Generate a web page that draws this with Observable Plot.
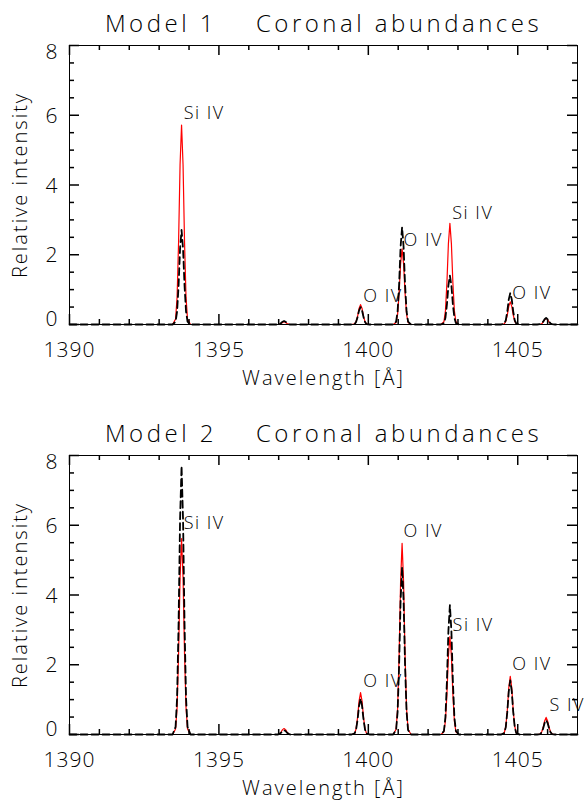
<!DOCTYPE html>
<html><head><meta charset="utf-8">
<script src="https://cdn.jsdelivr.net/npm/d3@7"></script>
<script src="https://cdn.jsdelivr.net/npm/@observablehq/plot@0.6"></script>
<style>
body{margin:0;background:#fff} svg{display:block}
g[font-size="24"] text{letter-spacing:3.5px}
g[font-size="20"] text{letter-spacing:2px}
g[font-size="18"] text{letter-spacing:1.5px}
g[font-size="21"] text{letter-spacing:1px}
</style>
</head><body><div id="chart"></div>
<script>
const wavelength = [1390,
1393.45,1393.55,1393.60,1393.65,1393.70,1393.75,1393.80,1393.85,1393.90,1393.95,1394.05,
1396.88,1396.98,1397.03,1397.08,1397.13,1397.18,1397.23,1397.28,1397.33,1397.38,1397.48,
1399.44,1399.54,1399.59,1399.64,1399.69,1399.74,1399.79,1399.84,1399.89,1399.94,1400.04,
1400.83,1400.93,1400.98,1401.03,1401.08,1401.13,1401.18,1401.23,1401.28,1401.33,1401.43,
1402.43,1402.53,1402.58,1402.63,1402.68,1402.73,1402.78,1402.83,1402.88,1402.93,1403.03,
1404.45,1404.55,1404.60,1404.65,1404.70,1404.75,1404.80,1404.85,1404.90,1404.95,1405.05,
1405.65,1405.75,1405.80,1405.85,1405.90,1405.95,1406.00,1406.05,1406.10,1406.15,1406.25,
1407];

const model1Red = [0,
0,0.16,0.77,2.35,4.58,5.72,4.58,2.35,0.77,0.16,0,
0,0,0.01,0.03,0.06,0.08,0.06,0.03,0.01,0,0,
0,0.02,0.08,0.23,0.46,0.57,0.46,0.23,0.08,0.02,0,
0,0.06,0.29,0.89,1.74,2.17,1.74,0.89,0.29,0.06,0,
0,0.08,0.39,1.19,2.32,2.90,2.32,1.19,0.39,0.08,0,
0,0.02,0.09,0.27,0.52,0.65,0.52,0.27,0.09,0.02,0,
0,0,0.02,0.07,0.14,0.17,0.14,0.07,0.02,0,0,
0];
const model1Black = [0,
0,0.08,0.37,1.11,2.17,2.71,2.17,1.11,0.37,0.08,0,
0,0,0.01,0.04,0.08,0.10,0.08,0.04,0.01,0,0,
0,0.01,0.07,0.21,0.40,0.50,0.40,0.21,0.07,0.01,0,
0,0.08,0.38,1.14,2.23,2.79,2.23,1.14,0.38,0.08,0,
0,0.04,0.19,0.57,1.12,1.40,1.12,0.57,0.19,0.04,0,
0,0.03,0.12,0.37,0.72,0.90,0.72,0.37,0.12,0.03,0,
0,0.01,0.03,0.08,0.15,0.19,0.15,0.08,0.03,0.01,0,
0];
const model2Red = [0,
0,0.16,0.76,2.30,4.50,5.62,4.50,2.30,0.76,0.16,0,
0,0,0.02,0.07,0.14,0.17,0.14,0.07,0.02,0,0,
0,0.03,0.16,0.49,0.96,1.20,0.96,0.49,0.16,0.03,0,
0,0.15,0.74,2.25,4.38,5.48,4.38,2.25,0.74,0.15,0,
0,0.08,0.38,1.15,2.25,2.81,2.25,1.15,0.38,0.08,0,
0,0.05,0.23,0.68,1.34,1.67,1.34,0.68,0.23,0.05,0,
0,0.01,0.07,0.20,0.39,0.49,0.39,0.20,0.07,0.01,0,
0];
const model2Black = [0,
0,0.22,1.04,3.16,6.16,7.70,6.16,3.16,1.04,0.22,0,
0,0,0.02,0.05,0.10,0.12,0.10,0.05,0.02,0,0,
0,0.03,0.14,0.42,0.82,1.03,0.82,0.42,0.14,0.03,0,
0,0.13,0.65,1.97,3.84,4.80,3.84,1.97,0.65,0.13,0,
0,0.10,0.50,1.52,2.97,3.71,2.97,1.52,0.50,0.10,0,
0,0.04,0.21,0.64,1.24,1.55,1.24,0.64,0.21,0.04,0,
0,0.01,0.06,0.17,0.33,0.41,0.33,0.17,0.06,0.01,0,
0];

const labels1Text = ["Si IV","O IV","O IV","Si IV","O IV"];
const labels1X = [1393.82,1399.83,1401.18,1402.81,1404.82];
const labels1Y = [6.05,0.81,2.41,3.18,0.90];
const labels2Text = ["Si IV","O IV","O IV","Si IV","O IV","S IV"];
const labels2X = [1393.82,1401.18,1399.83,1402.82,1404.82,1406.06];
const labels2Y = [6.05,5.82,1.53,3.13,2.01,0.84];

const titles = ["Model 1    Coronal abundances", "Model 2    Coronal abundances"];
const xLabel = "Wavelength [Å]";
const yLabel = "Relative intensity";
const majorX = [1390,1395,1400,1405];
const minorX = [1391,1392,1393,1394,1396,1397,1398,1399,1401,1402,1403,1404,1406];
const majorY = [0,2,4,6,8];
const minorY = [0.5,1,1.5,2.5,3,3.5,4.5,5,5.5,6.5,7,7.5];

const FONT = "'Open Sans', 'DejaVu Sans', sans-serif";
const W = 585, MT = 45, ML = 69, MR = 8;

function panel(title, red, black, lt, lx, ly, height, marginBottom) {
  const data = wavelength.map((w, i) => ({w, red: red[i], black: black[i]}));
  const labs = lt.map((t, i) => ({t, x: lx[i], y: ly[i]}));
  const ih = height - MT - marginBottom, iw = W - ML - MR;
  const txt = {tickSize: 0, label: null, fill: "black", fontSize: 21};
  const tx = (arr, len, side) => Plot.tickX(arr, {x: d => d, stroke: "black", strokeWidth: 1.5, [side]: ih - len});
  const ty = (arr, len, side) => Plot.tickY(arr, {y: d => d, stroke: "black", strokeWidth: 1.5, [side]: iw - len});
  return Plot.plot({
    width: W, height, marginTop: MT, marginLeft: ML, marginRight: MR, marginBottom,
    x: {domain: [1390, 1407]},
    y: {domain: [0, 8]},
    style: {fontFamily: FONT, fontWeight: 300, background: "white", color: "black", overflow: "visible", whiteSpace: "pre"},
    marks: [
      Plot.line(data, {x: "w", y: "red", stroke: "red", strokeWidth: 1.2}),
      Plot.line(data, {x: "w", y: "black", stroke: "black", strokeWidth: 1.8, strokeDasharray: "7,4"}),
      Plot.frame({stroke: "black"}),
      tx(majorX, 10, "insetTop"), tx(minorX, 5, "insetTop"),
      tx(majorX, 10, "insetBottom"), tx(minorX, 5, "insetBottom"),
      ty(majorY, 10, "insetRight"), ty(minorY, 5, "insetRight"),
      ty(majorY, 10, "insetLeft"), ty(minorY, 5, "insetLeft"),
      Plot.axisX(majorX, {anchor: "bottom", tickPadding: 18, tickFormat: "d", ...txt}),
      Plot.axisY([2, 4, 6], {anchor: "left", tickPadding: 11, dy: 1, ...txt}),
      Plot.axisY([0], {anchor: "left", tickPadding: 11, dy: -5, ...txt}),
      Plot.axisY([8], {anchor: "left", tickPadding: 11, dy: 7, ...txt}),
      Plot.text(labs, {x: "x", y: "y", text: "t", textAnchor: "start", lineAnchor: "middle", fontSize: 18, fill: "black"}),
      Plot.text([title], {frameAnchor: "top", dy: -21, textAnchor: "middle", lineAnchor: "middle", fontSize: 24, fill: "black"}),
      Plot.text([xLabel], {frameAnchor: "bottom", dy: 54, textAnchor: "middle", lineAnchor: "middle", fontSize: 20, fill: "black"}),
      Plot.text([yLabel], {frameAnchor: "left", dx: -49, rotate: -90, textAnchor: "middle", lineAnchor: "middle", fontSize: 20, fill: "black"})
    ]
  });
}

const root = document.getElementById("chart");
root.append(panel(titles[0], model1Red, model1Black, labels1Text, labels1X, labels1Y, 410, 86));
root.append(panel(titles[1], model2Red, model2Black, labels2Text, labels2X, labels2Y, 391, 67));
</script></body></html>
